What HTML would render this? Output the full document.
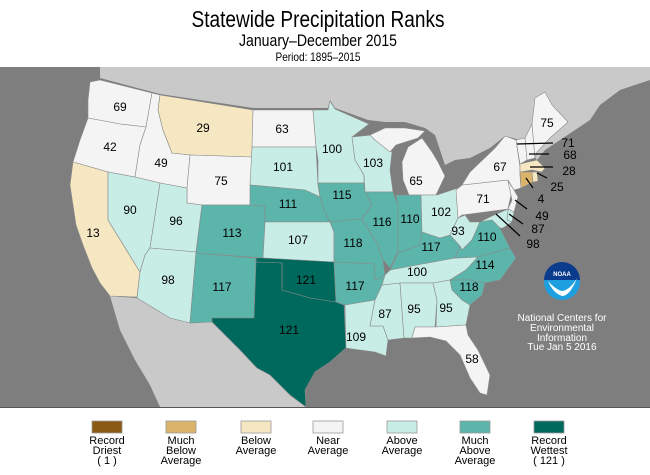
<!DOCTYPE html>
<html><head><meta charset="utf-8">
<style>
html,body{margin:0;padding:0;background:#fff;}
svg{display:block;font-family:"Liberation Sans",Arial,sans-serif;}
</style></head>
<body>
<svg id="chart" width="650" height="475" viewBox="0 0 650 475" xmlns="http://www.w3.org/2000/svg">
  <rect x="0" y="0" width="650" height="475" fill="#ffffff"/>
  <text x="318" y="27" text-anchor="middle" font-size="23" textLength="253" lengthAdjust="spacingAndGlyphs" fill="#000">Statewide Precipitation Ranks</text>
  <text x="318" y="46" text-anchor="middle" font-size="17" textLength="158" lengthAdjust="spacingAndGlyphs" fill="#000">January–December 2015</text>
  <text x="318" y="61" text-anchor="middle" font-size="12" textLength="85" lengthAdjust="spacingAndGlyphs" fill="#000">Period: 1895–2015</text>
  <g>
    <rect x="0" y="67" width="650" height="340" fill="#7e7e7e"/>
    <polygon fill="#c9c9c9" points="100,67 650,67 650,80 620,90 600,105 590,120 575,130 560,140 545,150 537,160 520,140 505,136 490,148 470,158 455,160 445,165 440,150 435,135 425,128 405,122 385,122 368,120 335,108 330,100 328,108 253,108 160,94 100,78"/>
    <polygon fill="#c9c9c9" points="110,296 137,298 170,318 190,323 212,322 225,335 240,350 257,368 270,375 290,395 306,407 160,407 150,385 135,360 120,330"/>
    <polygon fill="#c9c9c9" points="137,310 160,345 175,380 180,407 170,407 150,370 135,330"/>
    <g id="states"></g>
    <g id="labels"></g>
    <g id="pointers" stroke="#000" stroke-width="1.2">
      <line x1="517" y1="144" x2="553" y2="143"/>
      <line x1="529" y1="154" x2="549" y2="154"/>
      <line x1="530" y1="167" x2="553" y2="167"/>
      <line x1="537" y1="173" x2="547" y2="178"/>
      <line x1="526" y1="178" x2="533" y2="188"/>
      <line x1="515" y1="200" x2="527" y2="209"/>
      <line x1="509" y1="214" x2="523" y2="224"/>
      <line x1="496" y1="214" x2="520" y2="236"/>
    </g>
    <g>
      <circle cx="562" cy="282" r="18" fill="#1e9fe0"/>
      <path d="M544,280 A18,18 0 0 1 580,280 Z" fill="#0b3b8c"/>
      <path d="M548,281 Q556,290 562,291 Q570,290 577,278 Q570,296 562,296 Q553,293 548,281 Z" fill="#fff"/>
      <text x="562" y="276" text-anchor="middle" font-size="6" font-weight="bold" fill="#fff">NOAA</text>
    </g>
    <g fill="#ffffff" font-size="10" text-anchor="middle">
      <text x="562" y="321">National Centers for</text>
      <text x="562" y="331">Environmental</text>
      <text x="562" y="341">Information</text>
      <text x="562" y="350">Tue Jan  5 2016</text>
    </g>
  </g>
  <line x1="0" y1="407.5" x2="650" y2="407.5" stroke="#555" stroke-width="1"/>
  <g id="legend"></g>
</svg>
<script>
// Data
const stateCodes = ["WA","OR","CA","ID","NV","MT","WY","UT","AZ","CO","NM","ND","SD","NE","KS","OK","TX","MN","IA","MO","AR","LA","WI","IL","MS","MI","IN","KY","TN","AL","OH","WV","VA","NC","SC","GA","FL","PA","NY","VT","NH","ME","MA","CT","RI","NJ","DE","MD"];
const stateRanks = [69,42,13,49,90,29,75,96,98,113,117,63,101,111,107,121,121,100,115,118,117,109,103,116,87,65,110,117,100,95,102,93,110,114,118,95,58,71,67,71,68,75,28,4,25,49,87,98];
const categoryNames = ["Record Driest","Much Below Average","Below Average","Near Average","Above Average","Much Above Average","Record Wettest"];
const categoryColors = ["#8a5a14","#d9b46a","#f6e7c3","#f4f4f4","#c8ece6","#5cb5aa","#00695d"];
const categoryUpper = [1,12,40,81,109,120,121];

// Geometry (layout, not data)
const shapes = {
WA:"90,82 100,80 152,93 146,127 120,124 88,118 88,100",
OR:"88,118 120,124 146,127 140,145 135,177 108,172 73,162 80,140",
CA:"73,162 108,172 108,220 140,272 137,297 110,296 100,283 92,268 83,245 76,225 73,205 70,185",
ID:"152,93 160,95 158,110 163,130 172,153 190,155 187,188 160,183 135,177 140,145 146,127",
NV:"108,172 135,177 160,183 150,248 145,255 140,272 108,220",
MT:"160,95 253,110 252,157 190,155 172,153 163,130 158,110",
WY:"190,155 252,157 250,205 202,205 187,203 187,188",
UT:"160,183 187,188 187,203 202,205 196,252 150,248",
AZ:"150,248 196,252 190,323 170,318 137,298 140,272 145,255",
CO:"202,205 250,205 265,206 265,222 263,258 196,253",
NM:"196,253 256,258 254,318 212,318 212,322 190,323",
ND:"253,110 313,110 316,147 252,147",
SD:"252,147 316,147 318,185 320,197 305,190 250,185",
NE:"250,185 305,190 320,197 324,210 330,222 265,222 265,206 250,205",
KS:"265,222 330,222 334,232 334,262 263,258",
OK:"256,258 263,258 334,262 336,302 310,298 282,290 282,263 256,262",
TX:"256,262 282,263 282,290 310,298 336,302 344,305 346,348 330,362 315,372 305,390 306,407 290,395 270,375 257,368 240,350 225,335 212,322 212,318 254,318",
MN:"313,110 328,110 330,101 335,109 369,124 352,137 355,160 364,175 364,183 318,183 318,160 316,147",
IA:"318,183 364,183 365,192 372,205 362,219 330,222 324,210 320,197",
MO:"330,222 362,219 370,232 378,245 383,260 385,275 375,280 374,264 334,262 334,232",
AR:"334,262 374,264 375,280 385,275 382,285 375,300 345,305 336,302",
LA:"345,305 375,300 370,326 383,326 388,340 386,356 375,352 360,350 346,348",
WI:"352,137 372,135 392,152 390,170 393,192 365,192 364,175 355,160",
IL:"365,192 393,192 398,205 398,252 390,268 383,260 378,245 370,232 362,219 372,205",
MS:"382,285 400,283 404,338 388,340 383,326 370,326 375,300",
MI:"408,147 422,138 432,152 438,162 445,176 436,195 409,195 403,180 402,162",
MIUP:"370,135 385,128 405,128 425,131 418,138 396,145 390,152 375,140",
IN:"396,195 421,195 422,232 420,245 398,253 398,205",
KY:"398,253 420,245 422,232 440,238 450,235 460,246 455,258 390,270",
TN:"390,270 455,258 478,257 466,270 450,280 433,283 400,283 382,285 385,275",
AL:"400,283 433,283 437,300 435,327 415,327 412,338 404,338",
OH:"421,195 437,195 458,188 458,218 450,235 440,238 422,232",
WV:"458,218 465,215 470,222 480,222 472,240 462,250 460,246 450,235",
VA:"462,250 472,240 480,222 492,216 500,228 510,248 478,257 455,258 460,246",
NC:"478,257 510,248 516,258 500,280 485,283 470,280 450,280 466,270",
SC:"450,280 470,280 485,283 482,295 470,305 462,300 452,290",
GA:"433,283 450,280 452,290 462,300 470,305 466,325 436,327 437,300",
FL:"415,327 436,327 466,325 468,335 478,350 490,375 487,395 480,393 470,378 460,355 446,341 430,337 412,338",
PA:"456,190 462,185 508,180 512,190 508,209 462,215 458,218",
NY:"462,185 470,172 495,148 505,136 516,140 520,167 520,175 521,188 514,190 508,180",
VT:"516,140 525,138 527,160 520,164",
NH:"525,138 532,124 535,158 527,160",
ME:"532,124 535,98 545,92 552,105 568,122 550,138 537,152 535,158",
MA:"520,164 537,160 545,168 542,172 532,170 520,172",
CT:"520,172 532,172 533,182 521,188",
RI:"532,172 537,172 538,181 533,182",
NJ:"508,181 514,190 518,197 514,212 508,209 512,200",
DE:"508,209 514,212 512,222 507,220",
MD:"480,222 492,216 508,209 507,220 512,222 503,228 500,228 492,220"
};
const labelPos = {WA:[120,111],OR:[110,151],CA:[93,237],ID:[161,167],NV:[130,214],MT:[203,132],WY:[221,185],UT:[176,225],AZ:[168,284],CO:[232,237],NM:[222,291],ND:[282,133],SD:[283,171],NE:[288,208],KS:[298,244],OK:[306,284],TX:[289,334],MN:[332,153],IA:[342,199],MO:[353,247],AR:[355,290],LA:[356,341],WI:[373,167],IL:[382,226],MS:[385,318],MI:[416,185],IN:[410,223],KY:[431,251],TN:[417,276],AL:[414,313],OH:[441,216],WV:[458,235],VA:[487,241],NC:[485,269],SC:[469,291],GA:[446,312],FL:[472,363],PA:[483,203],NY:[500,171],VT:[568,147],NH:[570,159],ME:[547,127],MA:[569,175],CT:[541,203],RI:[557,191],NJ:[542,220],DE:[538,233],MD:[533,248]};

function categoryOf(rank){
  for(let i=0;i<categoryUpper.length;i++){ if(rank<=categoryUpper[i]) return i; }
  return categoryUpper.length-1;
}
const NS="http://www.w3.org/2000/svg";
const gS=document.getElementById('states');
const gL=document.getElementById('labels');
stateCodes.forEach((code,i)=>{
  const col=categoryColors[categoryOf(stateRanks[i])];
  const polys = code==="MI" ? ["MI","MIUP"] : [code];
  polys.forEach(k=>{
    const p=document.createElementNS(NS,'polygon');
    p.setAttribute('points',shapes[k]);
    p.setAttribute('fill',col);
    p.setAttribute('stroke','#8a8a8a');
    p.setAttribute('stroke-width','0.6');
    
    
    gS.appendChild(p);
  });
  const lp=labelPos[code];
  const t=document.createElementNS(NS,'text');
  t.setAttribute('x',lp[0]); t.setAttribute('y',lp[1]);
  t.setAttribute('text-anchor','middle');
  t.setAttribute('font-size','12');
  t.setAttribute('fill','#000');
  t.textContent=stateRanks[i];
  
  
  gL.appendChild(t);
});
// Legend
const legendX=[92,166,241,313,387,460,534];
const legendLines=[["Record","Driest","( 1 )"],["Much","Below","Average"],["Below","Average"],["Near","Average"],["Above","Average"],["Much","Above","Average"],["Record","Wettest","( 121 )"]];
const gLeg=document.getElementById('legend');
categoryNames.forEach((nm,i)=>{
  const r=document.createElementNS(NS,'rect');
  r.setAttribute('x',legendX[i]); r.setAttribute('y',421);
  r.setAttribute('width',30); r.setAttribute('height',12);
  r.setAttribute('fill',categoryColors[i]);
  r.setAttribute('stroke','#999'); r.setAttribute('stroke-width','0.8');
  
  
  gLeg.appendChild(r);
  legendLines[i].forEach((ln,j)=>{
    const t=document.createElementNS(NS,'text');
    t.setAttribute('x',legendX[i]+15); t.setAttribute('y',444+j*10);
    t.setAttribute('text-anchor','middle'); t.setAttribute('font-size','11');
    t.setAttribute('fill','#000');
    t.textContent=ln;
    
    
    gLeg.appendChild(t);
  });
});
</script>
</body></html>
